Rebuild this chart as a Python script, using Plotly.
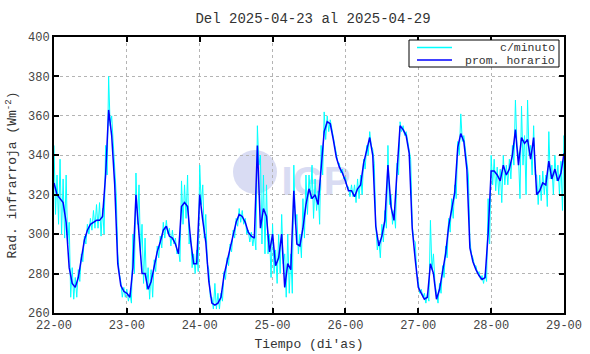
import plotly.graph_objects as go
import pandas as pd

title_text = "Del 2025-04-23 al 2025-04-29"
start = "2025-04-22 00:00"
end = "2025-04-29 00:00"

# hourly average (prom. horario), one value per hour from 22-00 to 29-00
blue = [
326,320,318,316,306,283,275,273,278,288,
297,302,305,306,307,307,309,330,363,350,
325,285,274,271,270,268,283,320,300,280,
280,272,276,284,291,296,302,304,299,298,
295,290,314,316,314,297,285,285,320,307,
296,276,265,264,265,268,279,286,293,300,
306,310,309,306,301,299,298,345,303,313,
309,291,300,284,288,300,273,285,282,322,
295,294,303,315,323,318,320,315,336,352,
357,356,348,339,334,331,327,322,322,319,
323,325,336,343,349,340,304,294,299,307,
335,314,307,332,355,353,350,341,303,287,
273,270,267,268,285,280,267,272,281,290,
304,312,321,344,351,347,333,293,286,282,
279,277,278,300,332,332,330,327,335,330,
333,340,353,335,349,346,348,338,349,320,
322,326,325,337,328,333,327,331,341
]

# per-minute data (c/minuto): highest and lowest reading within each hour
cyan_hi = [
345,330,338,328,330,306,283,278,282,290,
299,305,308,312,315,316,313,345,380,360,
330,290,276,273,272,270,300,331,325,305,
298,283,282,287,294,299,306,307,303,302,
298,292,327,325,330,300,290,292,335,325,
310,282,268,275,270,270,281,288,295,302,
308,313,312,308,302,301,300,355,340,330,
325,300,305,292,300,310,290,300,290,335,
310,300,318,330,330,335,328,322,345,362,
360,358,350,341,336,333,329,324,325,325,
328,330,338,345,352,343,305,297,305,312,
345,320,312,336,357,355,352,343,305,296,
276,272,270,270,307,290,270,275,284,294,
308,318,325,347,361,350,336,297,288,284,
281,279,280,318,340,338,334,333,340,335,
338,345,368,340,365,350,368,345,355,330,
330,332,330,352,335,340,335,337,350
]
cyan_lo = [
310,305,300,298,295,268,267,268,276,286,
295,300,302,303,303,299,300,330,355,345,
320,280,268,268,266,265,280,305,290,275,
272,267,268,281,288,293,298,300,294,295,
290,286,305,308,295,283,280,281,315,298,
285,268,262,262,262,266,277,284,291,298,
304,306,305,300,296,294,292,335,295,290,
290,278,280,275,280,285,268,270,270,305,
290,288,298,310,318,308,312,305,330,348,
352,353,345,336,331,328,324,319,319,316,
318,320,333,340,345,336,292,288,296,303,
315,305,303,330,352,350,347,338,297,280,
270,268,265,266,282,275,265,270,278,288,
301,308,318,340,347,344,330,290,284,280,
277,275,276,295,325,322,320,316,325,325,
328,335,345,318,335,320,340,330,330,315,
317,320,314,328,320,327,320,312,335
]

series_names = ["c/minuto", "prom. horario"]
series_colors = ["#00ffff", "#0000ff"]
y_ticks = [260, 280, 300, 320, 340, 360, 380, 400]

hours = pd.date_range(start, periods=len(blue), freq="h")
cx, cy = [], []
for t, hi, lo in zip(hours, cyan_hi, cyan_lo):
    cx += [t, t + pd.Timedelta(minutes=30)]
    cy += [hi, lo]

MONO = "Liberation Mono, Courier New, monospace"

fig = go.Figure()
fig.add_trace(go.Scatter(x=cx, y=cy, mode="lines", name=series_names[0],
                         line=dict(color=series_colors[0], width=1)))
fig.add_trace(go.Scatter(x=hours, y=blue, mode="lines", name=series_names[1],
                         line=dict(color=series_colors[1], width=1.5)))

axis_common = dict(showline=True, linecolor="black", linewidth=2, mirror="ticks",
                   ticks="inside", ticklen=5, tickwidth=1.5, tickcolor="black",
                   showgrid=True, gridcolor="#b4b4b4", griddash="dot", gridwidth=1,
                   zeroline=False, tickfont=dict(family=MONO, size=12, color="#444"))

fig.update_xaxes(range=[start, end], dtick=86400000, tickformat="%d-%H",
                 title=dict(text="Tiempo (di'as)", standoff=6,
                            font=dict(family=MONO, size=13, color="#333")),
                 **axis_common)
fig.update_yaxes(range=[260, 400], tickvals=y_ticks,
                 title=dict(text="Rad. infrarroja (Wm<sup>-2</sup>)", standoff=8,
                            font=dict(family=MONO, size=13, color="#333")),
                 **axis_common)

# plot-area pixel helpers (plot area spans x 54..564, y 37..313)
def fx(px):
    return (px - 54) / 510
def fy(py):
    return (313 - py) / 276

WM = "#d9dcf3"
shapes = [
    # faint IGP watermark
    dict(type="circle", xref="paper", yref="paper",
         x0=fx(233), x1=fx(277), y0=fy(194), y1=fy(150),
         fillcolor=WM, line=dict(width=0), layer="below"),
    dict(type="rect", xref="paper", yref="paper",
         x0=fx(282), x1=fx(350), y0=fy(196), y1=fy(158),
         fillcolor="rgba(0,0,0,0)", line=dict(width=0), layer="below",
         label=dict(text="<b>IGP</b>",
                    font=dict(family="Liberation Sans, Arial", size=40, color=WM))),
    # legend box
    dict(type="rect", xref="paper", yref="paper",
         x0=fx(409), x1=fx(559), y0=fy(67), y1=fy(40),
         fillcolor="white", line=dict(color="black", width=1), layer="above"),
]
annotations = []
row_y = [47.5, 60]
for name, col, ry in zip(series_names, series_colors, row_y):
    shapes.append(dict(type="line", xref="paper", yref="paper",
                       x0=fx(417), x1=fx(452), y0=fy(ry), y1=fy(ry),
                       line=dict(color=col, width=1.5),
                       layer="above"))
    annotations.append(dict(text=name, xref="paper", yref="paper",
                            x=fx(557), y=fy(ry), xanchor="right", yanchor="middle",
                            showarrow=False,
                            font=dict(family=MONO, size=11.5, color="#333")))

fig.update_layout(
    width=590, height=354,
    margin=dict(l=54, r=26, t=37, b=41, autoexpand=False),
    paper_bgcolor="white", plot_bgcolor="white",
    font=dict(family=MONO, size=12, color="#333"),
    title=dict(text=title_text, x=313/590, xanchor="center",
               y=1 - 18/354, yanchor="middle", yref="container",
               font=dict(family=MONO, size=14, color="#333")),
    showlegend=False,
    shapes=shapes,
    annotations=annotations,
)

fig.write_html("out.html", config={"displayModeBar": False},
               post_script="document.body.style.margin='0';")
